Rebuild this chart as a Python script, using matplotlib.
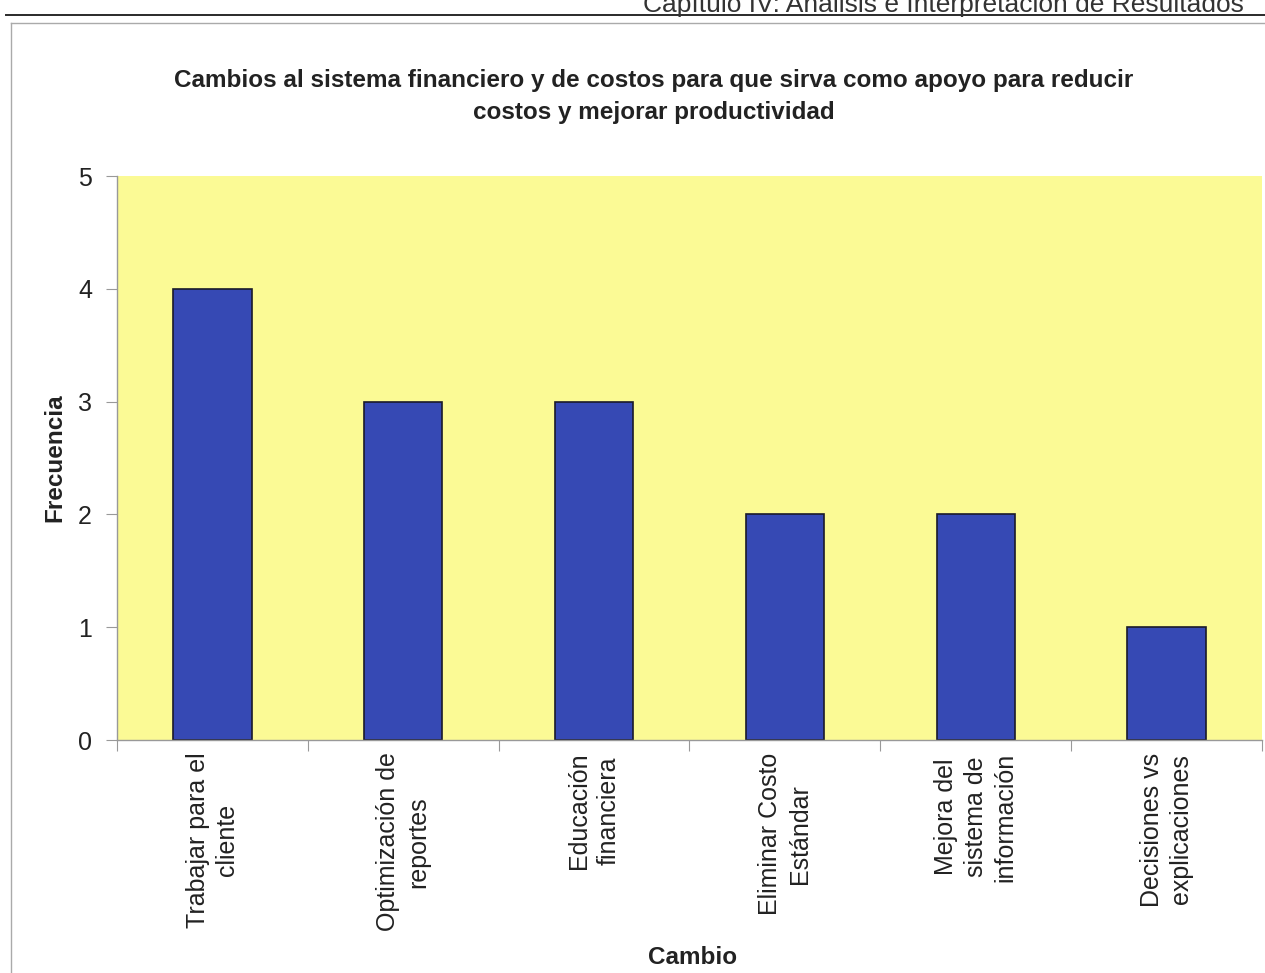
import matplotlib
matplotlib.use("Agg")
import matplotlib.pyplot as plt
from matplotlib.lines import Line2D
import numpy as np

plt.rcParams['font.family'] = ['Liberation Sans', 'DejaVu Sans']

# datos
categorias = ["Trabajar para el\ncliente", "Optimización de\nreportes", "Educación\nfinanciera",
              "Eliminar Costo\nEstándar", "Mejora del\nsistema de\ninformación",
              "Decisiones vs\nexplicaciones"]
frecuencia = [4, 3, 3, 2, 2, 1]
y_ticks = [0, 1, 2, 3, 4, 5]

titulo = "Cambios al sistema financiero y de costos para que sirva como apoyo para reducir\ncostos y mejorar productividad"
encabezado = "Capítulo IV: Análisis e Interpretación de Resultados"

W, H = 1265, 973
fig = plt.figure(figsize=(W / 100, H / 100), dpi=100)
fig.patch.set_facecolor("white")

# encabezado de la pagina
fig.text(643 / W, 1 - 12 / H, encabezado, fontsize=19, color="#333333",
         ha="left", va="baseline")
fig.add_artist(Line2D([6 / W, 1], [1 - 15 / H, 1 - 15 / H], color="#2a2a2a", lw=1.4))
# borde del grafico
fig.add_artist(Line2D([11 / W, 1], [1 - 23 / H, 1 - 23 / H], color="#aaaaaa", lw=1.0))
fig.add_artist(Line2D([11 / W, 11 / W], [0, 1 - 23 / H], color="#aaaaaa", lw=1.0))

ax = fig.add_axes([117 / W, 1 - 740 / H, 1145 / W, (740 - 176) / H])
ax.set_facecolor("#fbfa95")

x = np.arange(len(categorias))
ax.bar(x, frecuencia, width=0.41, color="#3649b4", edgecolor="#1a1a2a", linewidth=1.2)

ax.set_xlim(-0.5, len(categorias) - 0.5)
ax.set_ylim(0, 5)
ax.set_yticks(y_ticks)
ax.set_yticklabels([str(v) for v in y_ticks], fontsize=18, color="#222222")

# ticks entre categorias (estilo excel)
ax.set_xticks(np.arange(len(categorias) + 1) - 0.5)
ax.set_xticklabels([])
ax.set_xticks(x, minor=True)
ax.set_xticklabels(categorias, minor=True, rotation=90, fontsize=18, color="#222222",
                   ha="center", va="top", multialignment="center", linespacing=1.3)
ax.tick_params(axis="x", which="minor", length=0, pad=9)
ax.tick_params(axis="x", which="major", length=8, color="#999999")
ax.tick_params(axis="y", length=8, color="#999999", pad=10)

for s in ["top", "right"]:
    ax.spines[s].set_visible(False)
for s in ["left", "bottom"]:
    ax.spines[s].set_color("#999999")
    ax.spines[s].set_linewidth(1.0)

fig.text(654 / W, 1 - 96 / H, titulo, fontsize=17.5, fontweight="bold", color="#222222",
         ha="center", va="center", linespacing=1.5)
fig.text(55 / W, 1 - 458 / H, "Frecuencia", fontsize=17.5, fontweight="bold", color="#222222",
         rotation=90, ha="center", va="center")
fig.text(693 / W, 1 - 958 / H, "Cambio", fontsize=17.5, fontweight="bold", color="#222222",
         ha="center", va="center")

fig.savefig("out.png", dpi=100)
